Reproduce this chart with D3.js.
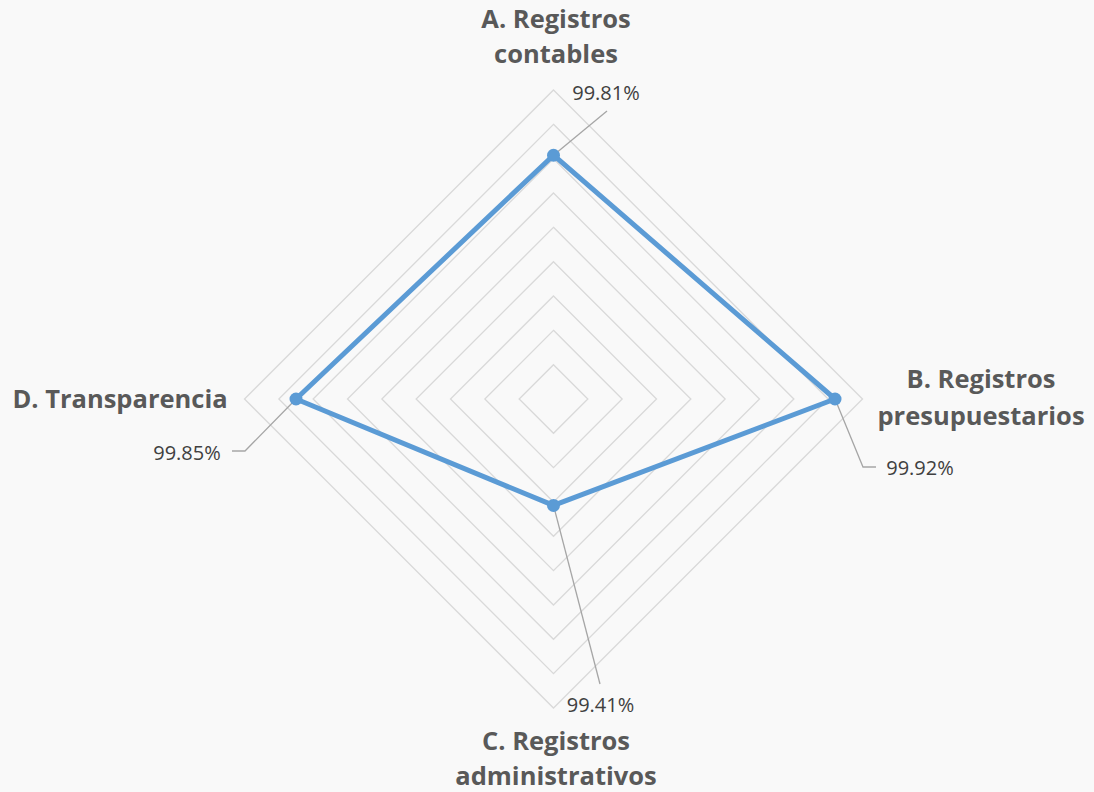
<!DOCTYPE html>
<html><head><meta charset="utf-8">
<script src="https://cdn.jsdelivr.net/npm/d3@7"></script>
<style>body{margin:0;background:#f9f9f9;}svg{display:block;}</style>
</head><body>
<script>
const categories = [["A. Registros","contables"],["B. Registros","presupuestarios"],["C. Registros","administrativos"],["D. Transparencia"]];
const values = [99.81, 99.92, 99.41, 99.85];
const valueLabels = ["99.81%","99.92%","99.41%","99.85%"];
const ringValues = [99.2,99.3,99.4,99.5,99.6,99.7,99.8,99.9,100.0];

const W=1094,H=792, cx=553.5, cy=399, R=309;
const svg=d3.select("body").append("svg").attr("width",W).attr("height",H);
svg.append("rect").attr("width",W).attr("height",H).attr("fill","#f9f9f9");
const r=d3.scaleLinear().domain([99.1,100.0]).range([0,R]);
const angle=d3.scalePoint().domain(d3.range(4)).range([0,270]);
function pt(i,v){const a=(angle(i)-90)*Math.PI/180;return [cx+r(v)*Math.cos(a), cy+r(v)*Math.sin(a)];}
const line=d3.line().curve(d3.curveLinearClosed);
svg.append("g").selectAll("path").data(ringValues).join("path")
 .attr("d",v=>line(d3.range(4).map(i=>pt(i,v)))).attr("fill","none").attr("stroke","#d9d9d9").attr("stroke-width",1.3);
svg.append("path").attr("d",line(values.map((v,i)=>pt(i,v)))).attr("fill","none").attr("stroke","#5b9bd5").attr("stroke-width",5).attr("stroke-linejoin","round");
const pts=values.map((v,i)=>pt(i,v));
const leaders=[[[607,111]],[[863,467],[876,467]],[[600,684]],[[245,451],[232,451]]];
leaders.forEach((l,i)=>{svg.append("path").attr("d",d3.line()([pts[i],...l])).attr("fill","none").attr("stroke","#a6a6a6").attr("stroke-width",1.3);});
svg.append("g").selectAll("circle").data(pts).join("circle").attr("cx",d=>d[0]).attr("cy",d=>d[1]).attr("r",6.5).attr("fill","#5b9bd5");
const lblPos=[[606,100],[920,475],[600.5,712],[187,460]];
svg.append("g").selectAll("text").data(valueLabels).join("text")
 .attr("x",(d,i)=>lblPos[i][0]).attr("y",(d,i)=>lblPos[i][1]).attr("text-anchor","middle")
 .attr("font-family","'Open Sans',sans-serif").attr("font-size",20).attr("fill","#404040").text(d=>d);
const catPos=[[556,28,35],[981,388,37],[556,750,35],[120,408,0]];
categories.forEach((c,i)=>{
 const t=svg.append("text").attr("x",catPos[i][0]).attr("y",catPos[i][1]).attr("text-anchor","middle")
  .attr("font-family","'Open Sans',sans-serif").attr("font-weight","bold").attr("font-size",25.5).attr("fill","#595959");
 c.forEach((s,j)=>t.append("tspan").attr("x",catPos[i][0]).attr("dy",j?catPos[i][2]:0).text(s));
});
</script>
</body></html>
